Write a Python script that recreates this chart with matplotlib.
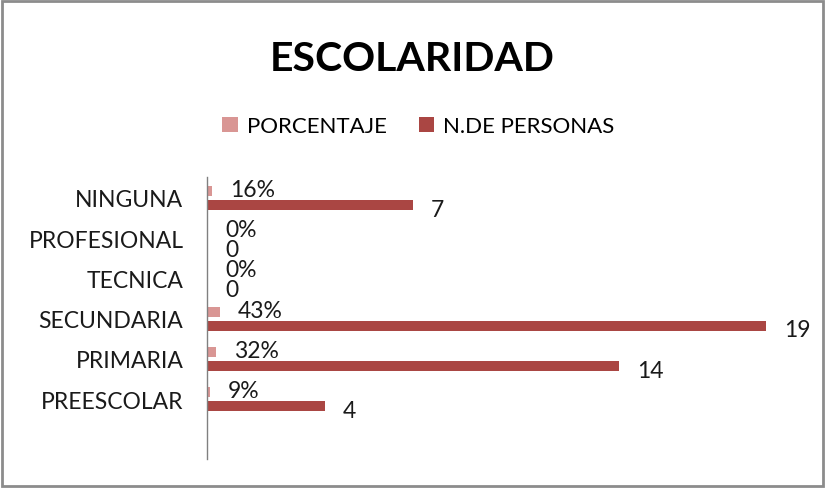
import matplotlib
matplotlib.use("Agg")
import matplotlib.pyplot as plt
from matplotlib.patches import Rectangle
import numpy as np

plt.rcParams['font.family'] = ['Lato', 'DejaVu Sans']

categorias = ["PREESCOLAR", "PRIMARIA", "SECUNDARIA", "TECNICA", "PROFESIONAL", "NINGUNA"]
porcentaje = [0.09, 0.32, 0.43, 0.0, 0.0, 0.16]
porcentaje_txt = ["9%", "32%", "43%", "0%", "0%", "16%"]
personas = [4, 14, 19, 0, 0, 7]

c_pct = "#D99694"
c_per = "#AA4643"

fig = plt.figure(figsize=(8.25, 4.89), dpi=100)
ax = fig.add_axes([0.2509, 0.0593, 0.7127, 0.5767])

y = np.arange(len(categorias))
off = 0.175
h = 0.25
b1 = ax.barh(y + off, porcentaje, height=h, color=c_pct, label="PORCENTAJE")
b2 = ax.barh(y - off, personas, height=h, color=c_per, label="N.DE PERSONAS")

for yi, v, t in zip(y, porcentaje, porcentaje_txt):
    ax.annotate(t, (v, yi + off), xytext=(13, 1), textcoords="offset points",
                ha="left", va="center", fontsize=16.5, color="#1a1a1a")
for yi, v in zip(y, personas):
    ax.annotate(str(v), (v, yi - off), xytext=(13, -3), textcoords="offset points",
                ha="left", va="center", fontsize=16.5, color="#1a1a1a")

ax.set_xlim(0, 20)
ax.set_ylim(-1.49, 5.52)
ax.set_yticks(y)
ax.set_yticklabels(categorias, fontsize=16.5, color="#1a1a1a")
ax.tick_params(axis="y", length=0, pad=17)
ax.set_xticks([])
for s in ["top", "right", "bottom"]:
    ax.spines[s].set_visible(False)
ax.spines["left"].set_color("#808080")
ax.spines["left"].set_linewidth(1)

fig.text(0.5, 0.878, "ESCOLARIDAD", ha="center", va="center",
         fontsize=29.5, fontweight="bold", color="black")

fig.legend(handles=[b1, b2], loc="center", bbox_to_anchor=(0.507, 0.74),
           ncol=2, frameon=False, fontsize=16, handlelength=0.7, handleheight=0.7,
           handletextpad=0.4, columnspacing=1.45)

fig.patches.append(Rectangle((0.003, 0.004), 0.994, 0.992, transform=fig.transFigure,
                             fill=False, edgecolor="#8c8c8c", linewidth=2))

fig.savefig("out.png", dpi=100)
